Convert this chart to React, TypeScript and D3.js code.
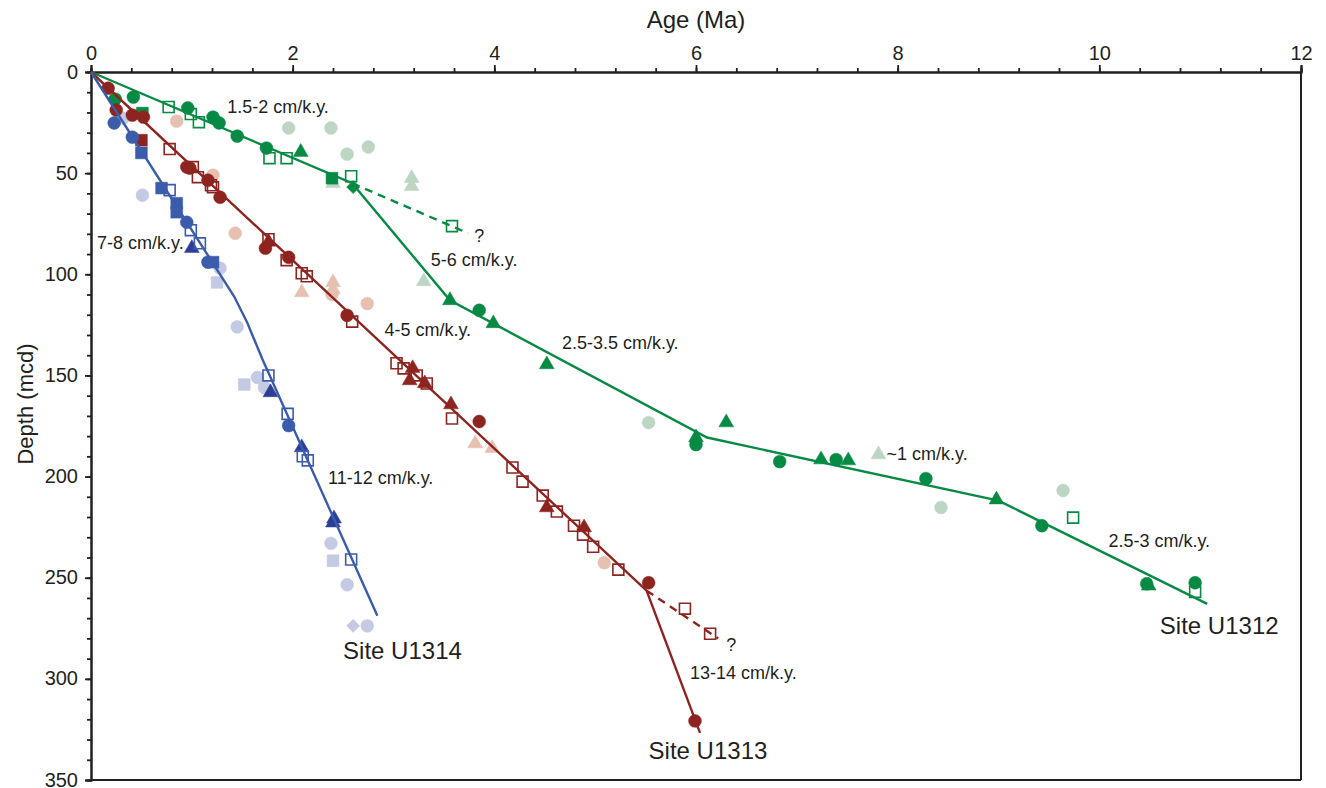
import React, { useEffect, useRef } from 'react';
import * as d3 from 'd3';

// [age (Ma), depth (mcd)]
type Pt = [number, number];

// Site U1312 (green)
const U1312_CIRCLE: Pt[] = [[0.24, 13.4], [0.42, 12.4], [0.96, 17.8], [1.21, 22.3], [1.27, 25.2], [1.45, 31.7], [1.74, 37.6], [3.85, 117.8], [6.0, 184.2], [6.83, 192.6], [7.39, 191.6], [8.28, 201], [9.43, 224.3], [10.47, 253], [10.95, 252.5]];
const U1312_TRIANGLE: Pt[] = [[2.08, 39.6], [3.56, 112.9], [3.99, 124.3], [4.52, 144.6], [6.0, 180.7], [6.3, 173.3], [7.24, 191.6], [7.51, 192.1], [8.98, 211.4], [10.49, 254]];
const U1312_SQUARE: Pt[] = [[0.51, 20.3], [2.39, 52.5]];
const U1312_OPEN_SQUARE: Pt[] = [[0.77, 17.3], [0.99, 20.8], [1.07, 24.8], [1.77, 42.6], [1.94, 42.6], [2.58, 51.5], [3.58, 76.2], [9.74, 220.3], [10.95, 257]];
const U1312_DIAMOND: Pt[] = [[2.6, 56.9]];
const U1312_FADED_CIRCLE: Pt[] = [[1.96, 27.7], [2.38, 27.7], [2.54, 40.6], [2.75, 37.1], [5.53, 173.3], [8.43, 215.3], [9.64, 206.9]];
const U1312_FADED_TRIANGLE: Pt[] = [[2.4, 55], [3.18, 52.5], [3.18, 56.5], [3.3, 103.5], [7.81, 189.1]];
const U1312_TREND: Pt[] = [[0, 0], [2.59, 55], [3.56, 112.9], [6.11, 180.7], [9.0, 211.9], [11.07, 262.9]];
const U1312_TREND_DASHED: Pt[] = [[2.59, 55], [3.74, 79.7]];

// Site U1313 (red)
const U1313_CIRCLE: Pt[] = [[0.17, 8], [0.25, 18.8], [0.41, 21.3], [0.52, 22.3], [0.95, 47], [0.98, 47.5], [1.16, 53.5], [1.28, 61.9], [1.73, 87.1], [1.96, 91.6], [2.54, 120.3], [3.85, 172.8], [5.53, 252.5], [5.99, 320.8]];
const U1313_TRIANGLE: Pt[] = [[1.76, 84], [3.19, 146.5], [3.16, 152.5], [3.31, 154], [3.57, 164.4], [4.52, 215.3], [4.89, 225.2]];
const U1313_SQUARE: Pt[] = [[0.5, 33.7]];
const U1313_OPEN_SQUARE: Pt[] = [[0.78, 38.1], [1.01, 47], [1.06, 52], [1.19, 56], [1.21, 57], [1.76, 82.7], [1.94, 93], [2.09, 99.5], [2.14, 101], [2.59, 123.4], [3.03, 144], [3.1, 146.5], [3.23, 150], [3.33, 154], [3.58, 171.3], [4.18, 195.5], [4.28, 202.5], [4.48, 209.4], [4.62, 217.3], [4.79, 224.3], [4.88, 228.7], [4.98, 234.7], [5.23, 246], [5.89, 265.3], [6.14, 277.7]];
const U1313_FADED_CIRCLE: Pt[] = [[0.85, 24.3], [1.21, 51], [1.43, 79.7], [2.39, 110], [2.74, 114.5], [5.09, 242.6]];
const U1313_FADED_TRIANGLE: Pt[] = [[2.09, 109], [2.4, 104], [2.4, 107.5], [3.81, 183.7], [3.98, 186]];
const U1313_TREND: Pt[] = [[0, 0], [5.51, 256.4], [6.04, 326.7]];
const U1313_TREND_DASHED: Pt[] = [[5.51, 256.4], [6.22, 280]];

// Site U1314 (blue)
const U1314_CIRCLE: Pt[] = [[0.23, 25.2], [0.41, 32.2], [0.95, 74.3], [1.16, 94], [1.96, 174.8]];
const U1314_TRIANGLE: Pt[] = [[1.0, 87.1], [1.78, 158.4], [2.09, 185.6], [2.41, 220.8], [2.4, 222.8]];
const U1314_SQUARE: Pt[] = [[0.5, 40], [0.7, 57.4], [0.85, 64.9], [0.85, 69.3], [1.21, 94]];
const U1314_OPEN_SQUARE: Pt[] = [[0.78, 58.4], [0.99, 78.2], [1.08, 84.7], [1.76, 150], [1.95, 169], [2.1, 190], [2.15, 192], [2.58, 241]];
const U1314_FADED_CIRCLE: Pt[] = [[0.32, 22.8], [0.51, 60.9], [1.28, 97], [1.45, 126], [1.65, 151], [1.72, 156], [2.38, 233], [2.54, 253.5], [2.74, 273.8]];
const U1314_FADED_SQUARE: Pt[] = [[1.25, 104], [1.52, 154.5], [2.4, 241.6]];
const U1314_FADED_DIAMOND: Pt[] = [[2.6, 273.8]];
const U1314_TREND: Pt[] = [[0, 0], [1.42, 111], [1.55, 124], [1.7, 142], [2.84, 268.8]];

// Annotations: [text, age, depth]
const RATE_LABELS: [string, number, number][] = [
  ['1.5-2 cm/k.y.', 1.35, 20.3],
  ['5-6 cm/k.y.', 3.37, 96],
  ['?', 3.8, 84],
  ['7-8 cm/k.y.', 0.06, 87.6],
  ['4-5 cm/k.y.', 2.91, 130.7],
  ['2.5-3.5 cm/k.y.', 4.67, 137.1],
  ['11-12 cm/k.y.', 2.35, 203.5],
  ['~1 cm/k.y.', 7.89, 192],
  ['2.5-3 cm/k.y.', 10.09, 234.7],
  ['?', 6.3, 286],
  ['13-14 cm/k.y.', 5.94, 300],
];
const SITE_LABELS: [string, number, number][] = [
  ['Site U1312', 10.6, 277.7],
  ['Site U1314', 2.5, 290],
  ['Site U1313', 5.53, 339.6],
];

const AGE_TICKS = [0, 2, 4, 6, 8, 10, 12];
const DEPTH_TICKS = [0, 50, 100, 150, 200, 250, 300, 350];

const GREEN = '#078a43', GREEN_FADED = '#bcd6c3';
const RED = '#8e2420', RED_FADED = '#e6c0b0';
const BLUE = '#3b5cab', BLUE_DARK = '#2c3f98', BLUE_FADED = '#c4c9e4';
const INK = '#231f20';

export default function App() {
  const svgRef = useRef<SVGSVGElement>(null);
  const W = 1326, H = 788;

  useEffect(() => {
    const svg = d3.select(svgRef.current);
    svg.selectAll('*').remove();

    const x = d3.scaleLinear().domain([0, 12]).range([91, 1301]);
    const y = d3.scaleLinear().domain([0, 350]).range([72, 780]);
    const font = 'Liberation Sans, Arial, Helvetica, sans-serif';

    // frame (right + bottom)
    svg.append('line').attr('x1', x(12)).attr('x2', x(12)).attr('y1', y(0)).attr('y2', y(350))
      .attr('stroke', INK).attr('stroke-width', 2);
    svg.append('line').attr('x1', x(0)).attr('x2', x(12)).attr('y1', y(350)).attr('y2', y(350))
      .attr('stroke', INK).attr('stroke-width', 2);

    // top axis
    const top = svg.append('g').attr('transform', `translate(0,${y(0)})`);
    top.call(d3.axisTop(x).tickValues(d3.range(0, 12.01, 0.4)).tickSize(4).tickFormat(() => ''));
    top.append('g').call(d3.axisTop(x).tickValues(AGE_TICKS).tickSize(7).tickFormat(d3.format('d')));
    top.selectAll('path.domain').attr('stroke-width', 2);
    top.selectAll('line').attr('stroke', INK).attr('stroke-width', 1.8);
    top.selectAll('path').attr('stroke', INK);
    top.selectAll('text').attr('fill', INK).attr('font-size', 20).attr('font-family', font).attr('dy', '-0.1em');

    // left axis
    const left = svg.append('g').attr('transform', `translate(${x(0)},0)`);
    left.call(d3.axisLeft(y).tickValues(d3.range(0, 351, 10)).tickSize(4).tickFormat(() => ''));
    left.append('g').call(d3.axisLeft(y).tickValues(DEPTH_TICKS).tickSize(6).tickFormat(d3.format('d')));
    left.selectAll('path.domain').attr('stroke-width', 2);
    left.selectAll('line').attr('stroke', INK).attr('stroke-width', 1.8);
    left.selectAll('path').attr('stroke', INK);
    left.selectAll('text').attr('fill', INK).attr('font-size', 20).attr('font-family', font)
      .attr('dx', '-0.2em').attr('dy', '0.3em');

    // axis titles
    svg.append('text').attr('x', x(6)).attr('y', 28).attr('text-anchor', 'middle')
      .attr('fill', INK).attr('font-size', 24).attr('font-family', font).text('Age (Ma)');
    svg.append('text').attr('transform', `translate(33,404) rotate(-90)`).attr('text-anchor', 'middle')
      .attr('fill', INK).attr('font-size', 22).attr('font-family', font).text('Depth (mcd)');

    const plot = svg.append('g');
    const sym = (type: d3.SymbolType, size: number) => d3.symbol().type(type).size(size)();
    const shapes: Record<string, string> = {
      circle: sym(d3.symbolCircle, 130)!,
      triangle: sym(d3.symbolTriangle, 95)!,
      square: sym(d3.symbolSquare, 140)!,
      open: sym(d3.symbolSquare, 120)!,
      diamond: sym(d3.symbolSquare, 85)!,
    };
    const drawPts = (pts: Pt[], shape: string, color: string) => {
      plot.append('g').selectAll('path').data(pts).join('path')
        .attr('transform', d => `translate(${x(d[0])},${y(d[1])})${shape === 'diamond' ? ' rotate(45)' : ''}`)
        .attr('d', shapes[shape])
        .attr('fill', shape === 'open' ? 'white' : color)
        .attr('fill-opacity', shape === 'open' ? 0 : 1)
        .attr('stroke', color)
        .attr('stroke-width', shape === 'open' ? 1.6 : 0.5);
    };

    // faded data first
    drawPts(U1312_FADED_CIRCLE, 'circle', GREEN_FADED);
    drawPts(U1312_FADED_TRIANGLE, 'triangle', GREEN_FADED);
    drawPts(U1313_FADED_CIRCLE, 'circle', RED_FADED);
    drawPts(U1313_FADED_TRIANGLE, 'triangle', RED_FADED);
    drawPts(U1314_FADED_CIRCLE, 'circle', BLUE_FADED);
    drawPts(U1314_FADED_SQUARE, 'square', BLUE_FADED);
    drawPts(U1314_FADED_DIAMOND, 'diamond', BLUE_FADED);

    drawPts(U1312_CIRCLE, 'circle', GREEN);
    drawPts(U1312_TRIANGLE, 'triangle', GREEN);
    drawPts(U1312_SQUARE, 'square', GREEN);
    drawPts(U1312_OPEN_SQUARE, 'open', GREEN);
    drawPts(U1312_DIAMOND, 'diamond', GREEN);

    drawPts(U1313_CIRCLE, 'circle', RED);
    drawPts(U1313_TRIANGLE, 'triangle', RED);
    drawPts(U1313_SQUARE, 'square', RED);
    drawPts(U1313_OPEN_SQUARE, 'open', RED);

    drawPts(U1314_CIRCLE, 'circle', BLUE);
    drawPts(U1314_TRIANGLE, 'triangle', BLUE_DARK);
    drawPts(U1314_SQUARE, 'square', BLUE);
    drawPts(U1314_OPEN_SQUARE, 'open', BLUE);

    // trend lines
    const line = d3.line<Pt>().x(d => x(d[0])).y(d => y(d[1]));
    const drawLine = (pts: Pt[], color: string, dashed = false) => {
      plot.append('path').attr('d', line(pts)!).attr('fill', 'none')
        .attr('stroke', color).attr('stroke-width', 2.4)
        .attr('stroke-dasharray', dashed ? '8,6' : null);
    };
    drawLine(U1312_TREND, GREEN);
    drawLine(U1312_TREND_DASHED, GREEN, true);
    drawLine(U1313_TREND, RED);
    drawLine(U1313_TREND_DASHED, RED, true);
    drawLine(U1314_TREND, BLUE);

    // labels
    svg.append('g').selectAll('text').data(RATE_LABELS).join('text')
      .attr('x', d => x(d[1])).attr('y', d => y(d[2]))
      .attr('fill', INK).attr('font-size', 18).attr('font-family', font)
      .text(d => d[0]);
    svg.append('g').selectAll('text').data(SITE_LABELS).join('text')
      .attr('x', d => x(d[1])).attr('y', d => y(d[2]))
      .attr('fill', INK).attr('font-size', 24).attr('font-family', font)
      .text(d => d[0]);
  }, []);

  return (
    <svg ref={svgRef} width={W} height={H} viewBox={`0 0 ${W} ${H}`}
      style={{ position: 'absolute', left: 0, top: 0, background: 'white' }} />
  );
}
